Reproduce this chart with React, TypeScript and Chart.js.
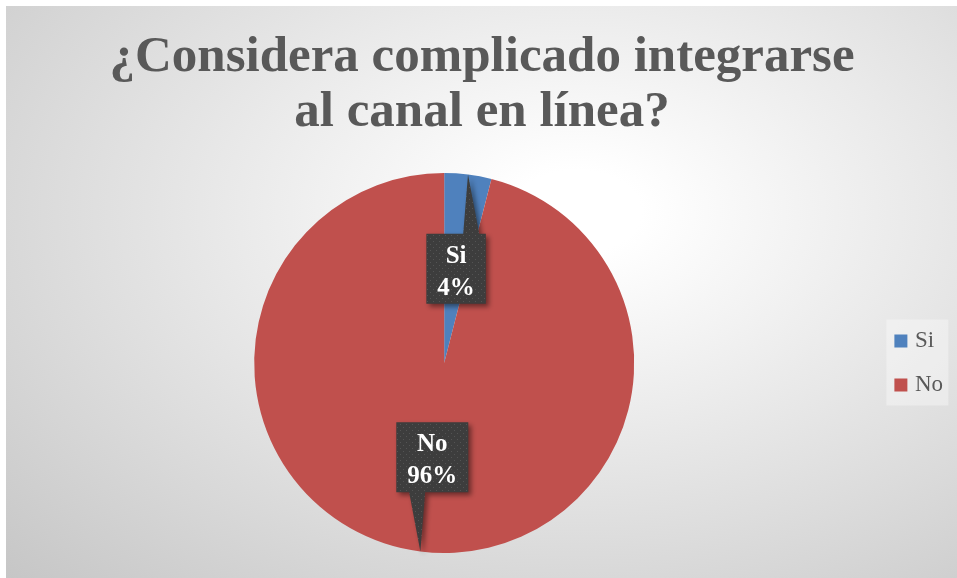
import { useEffect, useRef } from 'react';
import { Chart, registerables } from 'chart.js';

Chart.register(...registerables);

const categories = ['Si', 'No'];
const values = [4, 96];
const sliceColors = ['#4F81BD', '#C0504D'];
const titleLines = ['¿Considera complicado integrarse', 'al canal en línea?'];

export default function App() {
  const ref = useRef<HTMLCanvasElement>(null);

  useEffect(() => {
    const canvas = ref.current;
    if (!canvas) return;
    const total = values.reduce((a, b) => a + b, 0);

    const tile = document.createElement('canvas');
    tile.width = 6;
    tile.height = 6;
    const tctx = tile.getContext('2d')!;
    tctx.fillStyle = '#3d3d3d';
    tctx.fillRect(0, 0, 6, 6);
    tctx.fillStyle = '#545454';
    tctx.fillRect(1, 1, 1, 1);
    tctx.fillRect(4, 4, 1, 1);

    const legendBg = {
      id: 'legendBg',
      beforeDraw(chart: any) {
        const lg = chart.legend;
        if (!lg || !lg.legendHitBoxes || !lg.legendHitBoxes.length) return;
        const hbs = lg.legendHitBoxes;
        const first = hbs[0];
        const last = hbs[hbs.length - 1];
        const ctx = chart.ctx;
        ctx.save();
        ctx.fillStyle = 'rgba(255,255,255,0.35)';
        const left = first.left - 12;
        const top = first.top - 10;
        const bottom = last.top + last.height + 9;
        ctx.fillRect(left, top, 62, bottom - top);
        ctx.restore();
      },
    };

    const callouts = {
      id: 'callouts',
      afterDatasetsDraw(chart: any) {
        const ctx = chart.ctx;
        const meta = chart.getDatasetMeta(0);
        const pattern = ctx.createPattern(tile, 'repeat');
        meta.data.forEach((arc: any, i: number) => {
          const { x, y, startAngle, endAngle, outerRadius } = arc.getProps(
            ['x', 'y', 'startAngle', 'endAngle', 'outerRadius'],
            true
          );
          const mid = (startAngle + endAngle) / 2;
          const cx = x + Math.cos(mid) * outerRadius * 0.5;
          const cy = y + Math.sin(mid) * outerRadius * 0.5;
          const tx = x + Math.cos(mid) * outerRadius * 1.0;
          const ty = y + Math.sin(mid) * outerRadius * 1.0;
          const pct = Math.round((values[i] / total) * 100) + '%';
          const lines = [categories[i], pct];
          ctx.save();
          ctx.font = "bold 25px 'Liberation Serif'";
          const tw = Math.max(...lines.map((l) => ctx.measureText(l).width));
          const w = tw + 22;
          const h = 70;
          const l = cx - w / 2;
          const t = cy - h / 2;
          const r = cx + w / 2;
          const b = cy + h / 2;
          const hw = 8;
          let bx = tx + 0.27 * (tx - cx);
          bx = Math.min(Math.max(bx, l + hw), r - hw);
          ctx.beginPath();
          if (ty < t) {
            ctx.moveTo(l, t);
            ctx.lineTo(bx - hw, t);
            ctx.lineTo(tx, ty);
            ctx.lineTo(bx + hw, t);
            ctx.lineTo(r, t);
            ctx.lineTo(r, b);
            ctx.lineTo(l, b);
          } else if (ty > b) {
            ctx.moveTo(l, t);
            ctx.lineTo(r, t);
            ctx.lineTo(r, b);
            ctx.lineTo(bx + hw, b);
            ctx.lineTo(tx, ty);
            ctx.lineTo(bx - hw, b);
            ctx.lineTo(l, b);
          } else {
            ctx.rect(l, t, w, h);
          }
          ctx.closePath();
          ctx.shadowColor = 'rgba(0,0,0,0.45)';
          ctx.shadowBlur = 5;
          ctx.shadowOffsetX = 3;
          ctx.shadowOffsetY = 3;
          ctx.fillStyle = pattern;
          ctx.fill();
          ctx.shadowColor = 'transparent';
          ctx.shadowBlur = 0;
          ctx.shadowOffsetX = 0;
          ctx.shadowOffsetY = 0;
          ctx.fillStyle = '#ffffff';
          ctx.textAlign = 'center';
          ctx.textBaseline = 'alphabetic';
          ctx.fillText(lines[0], cx, cy - 6);
          ctx.fillText(lines[1], cx, cy + 26);
          ctx.restore();
        });
      },
    };

    const chart = new Chart(canvas, {
      type: 'pie',
      data: {
        labels: categories,
        datasets: [
          {
            data: values,
            backgroundColor: sliceColors,
            borderWidth: 0,
          },
        ],
      },
      options: {
        animation: false,
        responsive: false,
        devicePixelRatio: 1,
        events: [],
        layout: { padding: { left: 5, right: 4, top: 0, bottom: 25 } },
        plugins: {
          title: {
            display: true,
            text: titleLines,
            color: '#595959',
            font: { family: "'Liberation Serif'", size: 51, weight: 'bold', lineHeight: '55px' },
            padding: { top: 24, bottom: 33 },
          },
          legend: {
            position: 'right',
            fullSize: false,
            labels: {
              color: '#595959',
              font: { family: "'Liberation Serif'", size: 23 },
              boxWidth: 5,
              boxHeight: 5,
              padding: 21,
              generateLabels: (c: any) =>
                c.data.labels.map((lab: string, i: number) => ({
                  text: lab,
                  fillStyle: sliceColors[i],
                  strokeStyle: sliceColors[i],
                  lineWidth: 8,
                  lineJoin: 'miter',
                  fontColor: '#595959',
                  hidden: false,
                  index: i,
                })),
            },
          },
          tooltip: { enabled: false },
        },
      } as any,
      plugins: [legendBg, callouts],
    });
    return () => chart.destroy();
  }, []);

  return (
    <div
      style={{
        position: 'absolute',
        left: 6,
        top: 6,
        width: 951,
        height: 572,
        background:
          'radial-gradient(ellipse at 60% 36%, #ffffff 0%, #ffffff 8%, #c6c6c6 100%)',
      }}
    >
      <canvas ref={ref} width={951} height={572} style={{ display: 'block' }} />
    </div>
  );
}
